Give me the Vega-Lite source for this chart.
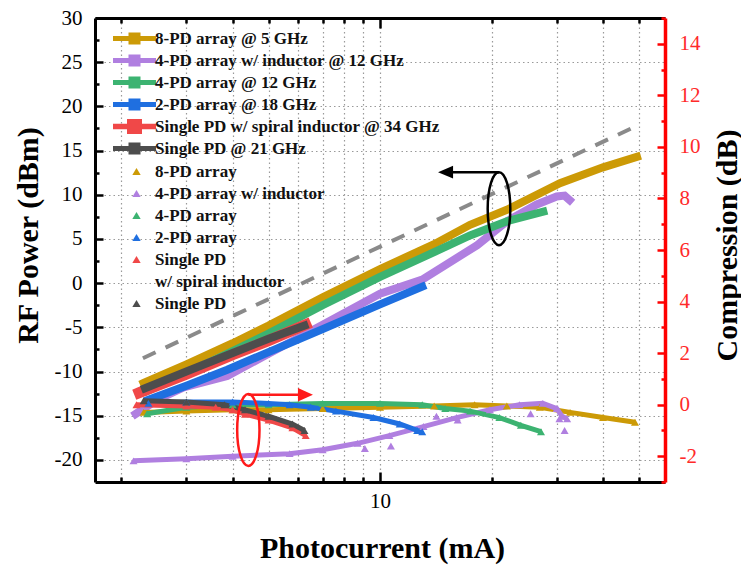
{
  "$schema": "https://vega.github.io/schema/vega-lite/v6.json",
  "width": 570,
  "height": 464,
  "autosize": {"type": "none"},
  "padding": {"left": 95, "top": 18, "right": 76, "bottom": 83},
  "background": "white",
  "config": {"view": {"stroke": null}, "font": "Liberation Serif"},
  "datasets": {
    "dash": [{"I": 2.29, "P": -8.5}, {"I": 48.2, "P": 17.6}],
    "rf": [
      {"s": "8-PD array @ 5 GHz", "I": 2.3, "P": -11.3},
      {"s": "8-PD array @ 5 GHz", "I": 3, "P": -9.2},
      {"s": "8-PD array @ 5 GHz", "I": 4, "P": -6.8},
      {"s": "8-PD array @ 5 GHz", "I": 5, "P": -4.8},
      {"s": "8-PD array @ 5 GHz", "I": 7, "P": -1.6},
      {"s": "8-PD array @ 5 GHz", "I": 10, "P": 1.6},
      {"s": "8-PD array @ 5 GHz", "I": 14, "P": 4.4},
      {"s": "8-PD array @ 5 GHz", "I": 17.5, "P": 6.6},
      {"s": "8-PD array @ 5 GHz", "I": 22, "P": 8.3},
      {"s": "8-PD array @ 5 GHz", "I": 30.6, "P": 11.3},
      {"s": "8-PD array @ 5 GHz", "I": 40, "P": 13.1},
      {"s": "8-PD array @ 5 GHz", "I": 49.4, "P": 14.3},
      {"s": "4-PD array w/ inductor @ 12 GHz", "I": 2.19, "P": -14.8},
      {"s": "4-PD array w/ inductor @ 12 GHz", "I": 2.5, "P": -13.2},
      {"s": "4-PD array w/ inductor @ 12 GHz", "I": 2.95, "P": -11.8},
      {"s": "4-PD array w/ inductor @ 12 GHz", "I": 3.87, "P": -10.5},
      {"s": "4-PD array w/ inductor @ 12 GHz", "I": 5, "P": -8.0},
      {"s": "4-PD array w/ inductor @ 12 GHz", "I": 7, "P": -4.7},
      {"s": "4-PD array w/ inductor @ 12 GHz", "I": 10, "P": -1.2},
      {"s": "4-PD array w/ inductor @ 12 GHz", "I": 13, "P": 0.4},
      {"s": "4-PD array w/ inductor @ 12 GHz", "I": 18.3, "P": 4.3},
      {"s": "4-PD array w/ inductor @ 12 GHz", "I": 22, "P": 7.0},
      {"s": "4-PD array w/ inductor @ 12 GHz", "I": 26.5, "P": 8.9},
      {"s": "4-PD array w/ inductor @ 12 GHz", "I": 30, "P": 9.8},
      {"s": "4-PD array w/ inductor @ 12 GHz", "I": 31.5, "P": 9.9},
      {"s": "4-PD array w/ inductor @ 12 GHz", "I": 32.5, "P": 9.4},
      {"s": "4-PD array @ 12 GHz", "I": 2.35, "P": -12.2},
      {"s": "4-PD array @ 12 GHz", "I": 3, "P": -10.2},
      {"s": "4-PD array @ 12 GHz", "I": 4, "P": -7.7},
      {"s": "4-PD array @ 12 GHz", "I": 5, "P": -5.7},
      {"s": "4-PD array @ 12 GHz", "I": 7, "P": -2.5},
      {"s": "4-PD array @ 12 GHz", "I": 10, "P": 0.7},
      {"s": "4-PD array @ 12 GHz", "I": 14, "P": 3.5},
      {"s": "4-PD array @ 12 GHz", "I": 17.5, "P": 5.4},
      {"s": "4-PD array @ 12 GHz", "I": 22, "P": 7.0},
      {"s": "4-PD array @ 12 GHz", "I": 27.6, "P": 8.1},
      {"s": "2-PD array @ 18 GHz", "I": 2.37, "P": -13.2},
      {"s": "2-PD array @ 18 GHz", "I": 3, "P": -11.6},
      {"s": "2-PD array @ 18 GHz", "I": 3.87, "P": -9.8},
      {"s": "2-PD array @ 18 GHz", "I": 5, "P": -7.8},
      {"s": "2-PD array @ 18 GHz", "I": 7, "P": -5.2},
      {"s": "2-PD array @ 18 GHz", "I": 10, "P": -2.4},
      {"s": "2-PD array @ 18 GHz", "I": 13, "P": -0.4},
      {"s": "Single PD w/ spiral inductor @ 34 GHz", "I": 2.24, "P": -12.4},
      {"s": "Single PD w/ spiral inductor @ 34 GHz", "I": 3, "P": -10.3},
      {"s": "Single PD w/ spiral inductor @ 34 GHz", "I": 4, "P": -8.1},
      {"s": "Single PD w/ spiral inductor @ 34 GHz", "I": 5, "P": -6.5},
      {"s": "Single PD w/ spiral inductor @ 34 GHz", "I": 6.3, "P": -4.7},
      {"s": "Single PD @ 21 GHz", "I": 2.32, "P": -11.9},
      {"s": "Single PD @ 21 GHz", "I": 3, "P": -10.0},
      {"s": "Single PD @ 21 GHz", "I": 4, "P": -7.9},
      {"s": "Single PD @ 21 GHz", "I": 5, "P": -6.3},
      {"s": "Single PD @ 21 GHz", "I": 6.25, "P": -4.8}
    ],
    "comp": [
      {"c": "8-PD array", "I": 2.3, "C": -0.3},
      {"c": "8-PD array", "I": 3, "C": -0.25},
      {"c": "8-PD array", "I": 4, "C": -0.2},
      {"c": "8-PD array", "I": 5, "C": -0.2},
      {"c": "8-PD array", "I": 7, "C": -0.15},
      {"c": "8-PD array", "I": 10, "C": -0.1},
      {"c": "8-PD array", "I": 14, "C": -0.05},
      {"c": "8-PD array", "I": 18, "C": 0.0},
      {"c": "8-PD array", "I": 22, "C": -0.05},
      {"c": "8-PD array", "I": 27, "C": -0.1},
      {"c": "8-PD array", "I": 32.6, "C": -0.3},
      {"c": "8-PD array", "I": 40, "C": -0.5},
      {"c": "8-PD array", "I": 48.8, "C": -0.68},
      {"c": "4-PD array w/ inductor", "I": 2.16, "C": -2.18},
      {"c": "4-PD array w/ inductor", "I": 3, "C": -2.1},
      {"c": "4-PD array w/ inductor", "I": 4, "C": -2.0},
      {"c": "4-PD array w/ inductor", "I": 5.7, "C": -1.9},
      {"c": "4-PD array w/ inductor", "I": 7, "C": -1.75},
      {"c": "4-PD array w/ inductor", "I": 8.7, "C": -1.5},
      {"c": "4-PD array w/ inductor", "I": 10.6, "C": -1.2},
      {"c": "4-PD array w/ inductor", "I": 13.1, "C": -0.85},
      {"c": "4-PD array w/ inductor", "I": 16.1, "C": -0.5},
      {"c": "4-PD array w/ inductor", "I": 19.8, "C": -0.2},
      {"c": "4-PD array w/ inductor", "I": 23.8, "C": 0.0},
      {"c": "4-PD array w/ inductor", "I": 27.5, "C": 0.05},
      {"c": "4-PD array w/ inductor", "I": 30, "C": -0.15},
      {"c": "4-PD array w/ inductor", "I": 31, "C": -0.45},
      {"c": "4-PD array w/ inductor", "I": 32, "C": -0.55},
      {"c": "4-PD array w/ inductor", "I": 9.1, "C": -1.7, "o": 1},
      {"c": "4-PD array w/ inductor", "I": 10.7, "C": -1.6, "o": 1},
      {"c": "4-PD array w/ inductor", "I": 14.2, "C": -0.45, "o": 1},
      {"c": "4-PD array w/ inductor", "I": 16.2, "C": -0.6, "o": 1},
      {"c": "4-PD array w/ inductor", "I": 25.5, "C": -0.35, "o": 1},
      {"c": "4-PD array w/ inductor", "I": 30.5, "C": -0.55, "o": 1},
      {"c": "4-PD array w/ inductor", "I": 31.5, "C": -1.0, "o": 1},
      {"c": "4-PD array", "I": 2.35, "C": -0.35},
      {"c": "4-PD array", "I": 3, "C": -0.1},
      {"c": "4-PD array", "I": 4, "C": 0.0},
      {"c": "4-PD array", "I": 5, "C": 0.0},
      {"c": "4-PD array", "I": 7, "C": 0.05},
      {"c": "4-PD array", "I": 10, "C": 0.05},
      {"c": "4-PD array", "I": 13, "C": 0.0},
      {"c": "4-PD array", "I": 15, "C": -0.15},
      {"c": "4-PD array", "I": 17.5, "C": -0.25},
      {"c": "4-PD array", "I": 21, "C": -0.5},
      {"c": "4-PD array", "I": 24, "C": -0.8},
      {"c": "4-PD array", "I": 27.2, "C": -1.05},
      {"c": "2-PD array", "I": 2.37, "C": 0.05},
      {"c": "2-PD array", "I": 3, "C": 0.1},
      {"c": "2-PD array", "I": 4, "C": 0.1},
      {"c": "2-PD array", "I": 5, "C": 0.05},
      {"c": "2-PD array", "I": 5.7, "C": 0.0},
      {"c": "2-PD array", "I": 6.5, "C": -0.1},
      {"c": "2-PD array", "I": 7.6, "C": -0.25},
      {"c": "2-PD array", "I": 9.6, "C": -0.5},
      {"c": "2-PD array", "I": 11.3, "C": -0.75},
      {"c": "2-PD array", "I": 12.6, "C": -1.0},
      {"c": "2-PD array", "I": 13, "C": -1.05},
      {"c": "Single PD w/ spiral inductor", "I": 2.2, "C": 0.0},
      {"c": "Single PD w/ spiral inductor", "I": 3, "C": -0.05},
      {"c": "Single PD w/ spiral inductor", "I": 3.6, "C": -0.1},
      {"c": "Single PD w/ spiral inductor", "I": 4.0, "C": -0.2},
      {"c": "Single PD w/ spiral inductor", "I": 4.32, "C": -0.37},
      {"c": "Single PD w/ spiral inductor", "I": 5, "C": -0.6},
      {"c": "Single PD w/ spiral inductor", "I": 5.8, "C": -0.9},
      {"c": "Single PD w/ spiral inductor", "I": 6.3, "C": -1.2},
      {"c": "Single PD", "I": 2.3, "C": 0.15},
      {"c": "Single PD", "I": 3, "C": 0.1},
      {"c": "Single PD", "I": 3.8, "C": 0.0},
      {"c": "Single PD", "I": 4.32, "C": -0.2},
      {"c": "Single PD", "I": 5, "C": -0.45},
      {"c": "Single PD", "I": 5.8, "C": -0.75},
      {"c": "Single PD", "I": 6.25, "C": -1.0}
    ],
    "annL": [
      {"k": "e", "I": 20.95, "P": 8.43},
      {"k": "a", "I": 20.95, "P": 12.56},
      {"k": "a", "I": 15.3, "P": 12.56},
      {"k": "h", "I": 15.03, "P": 12.56}
    ],
    "annR": [
      {"k": "e", "I": 4.41, "C": -0.98},
      {"k": "a", "I": 4.41, "C": 0.38},
      {"k": "a", "I": 6.1, "C": 0.38},
      {"k": "h", "I": 6.29, "C": 0.38}
    ]
  },
  "layer": [
    {
      "encoding": {
        "x": {
          "field": "I", "type": "quantitative",
          "scale": {"type": "log", "domain": [1.7, 58.8], "nice": false},
          "axis": {
            "orient": "bottom",
            "values": [2, 3, 4, 5, 6, 7, 8, 9, 10, 20, 30, 40, 50],
            "labelExpr": "datum.value == 10 ? '10' : ''",
            "labelOverlap": false, "labelFlush": false,
            "tickSize": {"condition": {"test": "datum.value == 10", "value": -10}, "value": -5},
            "tickWidth": 2.5, "tickColor": "black",
            "domainColor": "black", "domainWidth": 3,
            "grid": true, "gridColor": "#9a9a9a", "gridDash": [1.5, 3], "gridWidth": 1.2,
            "labelFont": "Liberation Serif", "labelFontSize": 21, "labelColor": "black", "labelPadding": 18,
            "title": "Photocurrent (mA)", "titleFont": "Liberation Serif", "titleFontSize": 30,
            "titleFontWeight": "bold", "titleColor": "black",
            "titleX": 287, "titleY": 75, "titleAlign": "center", "titleBaseline": "alphabetic"
          }
        },
        "y": {
          "field": "P", "type": "quantitative",
          "scale": {"domain": [-22.5, 30], "nice": false, "zero": false},
          "axis": {
            "orient": "left",
            "values": [-20, -17.5, -15, -12.5, -10, -7.5, -5, -2.5, 0, 2.5, 5, 7.5, 10, 12.5, 15, 17.5, 20, 22.5, 25, 27.5, 30],
            "labelExpr": "datum.value % 5 == 0 ? '' + datum.value : ''",
            "tickSize": {"condition": {"test": "datum.value % 5 != 0", "value": -4}, "value": -8},
            "tickWidth": 2.5, "tickColor": "black",
            "domainColor": "black", "domainWidth": 3,
            "grid": true, "gridColor": "#9a9a9a", "gridDash": [1.5, 3], "gridWidth": 1.2,
            "gridOpacity": {"condition": {"test": "datum.value % 5 != 0", "value": 0}, "value": 1},
            "labelFont": "Liberation Serif", "labelFontSize": 21, "labelColor": "black", "labelPadding": 21,
            "title": "RF Power (dBm)", "titleFont": "Liberation Serif", "titleFontSize": 30,
            "titleFontWeight": "bold", "titleColor": "black", "titleAngle": 270,
            "titleX": -67, "titleY": 217, "titleAlign": "center", "titleBaseline": "middle"
          }
        }
      },
      "layer": [
        {"data": {"name": "dash"}, "mark": {"type": "line", "color": "#8a8a8a", "strokeWidth": 4, "strokeDash": [14, 11]}},
        {
          "data": {"name": "rf"},
          "mark": {"type": "line", "strokeCap": "square"},
          "encoding": {
            "color": {
              "field": "s", "type": "nominal",
              "scale": {
                "domain": ["8-PD array @ 5 GHz", "4-PD array w/ inductor @ 12 GHz", "4-PD array @ 12 GHz", "2-PD array @ 18 GHz", "Single PD w/ spiral inductor @ 34 GHz", "Single PD @ 21 GHz"],
                "range": ["#cc9a06", "#b07fe0", "#3cb371", "#1f6fe0", "#f04848", "#4d4d4d"]
              },
              "legend": {
                "orient": "none", "legendX": 31, "legendY": 12, "title": null, "padding": 0, "rowPadding": 4,
                "symbolType": "M-4.3,-0.5H4.3V0.5H-4.3Z M-1.2,-1.2H1.2V1.2H-1.2Z",
                "symbolSize": 100, "symbolStrokeWidth": 0, "labelOffset": 12,
                "labelFont": "Liberation Serif", "labelFontSize": 17, "labelFontWeight": "bold",
                "labelColor": "#111111", "labelLimit": 400,
                "encode": {
                  "symbols": {
                    "update": {
                      "fill": {"scale": "color", "field": "value"},
                      "opacity": {"value": 1},
                      "shape": [
                        {"test": "datum.value === 'Single PD w/ spiral inductor @ 34 GHz'", "value": "M-4.3,-0.55H4.3V0.55H-4.3Z M-1.5,-1.5H1.5V1.5H-1.5Z"},
                        {"value": "M-4.3,-0.5H4.3V0.5H-4.3Z M-1.2,-1.2H1.2V1.2H-1.2Z"}
                      ]
                    }
                  }
                }
              }
            },
            "strokeWidth": {"condition": {"test": "datum.s === 'Single PD w/ spiral inductor @ 34 GHz'", "value": 11}, "value": 8}
          }
        },
        {"data": {"name": "annL"}, "transform": [{"filter": "datum.k === 'a'"}], "mark": {"type": "line", "color": "black", "strokeWidth": 2.5}},
        {"data": {"name": "annL"}, "transform": [{"filter": "datum.k === 'e'"}], "mark": {"type": "point", "shape": "M0,-1A0.31,1 0 1,1 0,1A0.31,1 0 1,1 0,-1Z", "size": 5329, "filled": false, "stroke": "black", "strokeWidth": 2.5, "opacity": 1}},
        {"data": {"name": "annL"}, "transform": [{"filter": "datum.k === 'h'"}], "mark": {"type": "point", "shape": "M-1,0L1,-0.85L1,0.85Z", "size": 225, "filled": true, "color": "black", "opacity": 1}}
      ]
    },
    {
      "encoding": {
        "x": {
          "field": "I", "type": "quantitative",
          "scale": {"type": "log", "domain": [1.7, 58.8], "nice": false},
          "axis": {
            "orient": "top",
            "values": [2, 3, 4, 5, 6, 7, 8, 9, 10, 20, 30, 40, 50],
            "labels": false, "grid": false, "title": null,
            "tickSize": {"condition": {"test": "datum.value == 10", "value": -10}, "value": -5},
            "tickWidth": 2.5, "tickColor": "black",
            "domainColor": "black", "domainWidth": 3
          }
        },
        "y": {
          "field": "C", "type": "quantitative",
          "scale": {"domain": [-3, 15], "nice": false, "zero": false},
          "axis": {
            "orient": "right",
            "values": [-3, -2, -1, 0, 1, 2, 3, 4, 5, 6, 7, 8, 9, 10, 11, 12, 13, 14, 15],
            "labelExpr": "datum.value % 2 == 0 ? '' + datum.value : ''",
            "tickSize": {"condition": {"test": "datum.value % 2 != 0", "value": -4}, "value": -8},
            "tickWidth": 2.5, "tickColor": "#ff0000",
            "domainColor": "#ff0000", "domainWidth": 3.5,
            "grid": false,
            "labelFont": "Liberation Serif", "labelFontSize": 21, "labelColor": "#ff2a2a", "labelPadding": 22,
            "title": "Compression (dB)", "titleFont": "Liberation Serif", "titleFontSize": 30,
            "titleFontWeight": "bold", "titleColor": "black", "titleAngle": 270,
            "titleX": 62, "titleY": 227, "titleAlign": "center", "titleBaseline": "middle"
          }
        }
      },
      "layer": [
        {
          "data": {"name": "comp"},
          "transform": [{"filter": "!datum.o"}],
          "mark": {"type": "line", "strokeWidth": 5},
          "encoding": {
            "stroke": {
              "field": "c", "type": "nominal",
              "scale": {
                "domain": ["8-PD array", "4-PD array w/ inductor", "4-PD array", "2-PD array", "Single PD w/ spiral inductor", "Single PD"],
                "range": ["#cc9a06", "#b07fe0", "#3cb371", "#1f6fe0", "#f04848", "#4d4d4d"]
              },
              "legend": null
            }
          }
        },
        {
          "data": {"name": "comp"},
          "mark": {"type": "point", "shape": "triangle-up", "size": 64, "filled": true, "opacity": 1},
          "encoding": {
            "fill": {
              "field": "c", "type": "nominal",
              "scale": {
                "domain": ["8-PD array", "4-PD array w/ inductor", "4-PD array", "2-PD array", "Single PD w/ spiral inductor", "w/ spiral inductor", "Single PD"],
                "range": ["#cc9a06", "#b07fe0", "#3cb371", "#1f6fe0", "#f04848", "transparent", "#4d4d4d"]
              },
              "legend": {
                "orient": "none", "legendX": 33, "legendY": 145, "title": null, "padding": 0, "rowPadding": 4,
                "symbolType": "triangle-up", "symbolSize": 70, "symbolStrokeWidth": 0, "symbolOpacity": 1,
                "labelOffset": 10,
                "labelExpr": "datum.value == 'Single PD w/ spiral inductor' ? 'Single PD' : datum.label",
                "labelFont": "Liberation Serif", "labelFontSize": 17, "labelFontWeight": "bold",
                "labelColor": "#111111", "labelLimit": 400
              }
            }
          }
        },
        {"data": {"name": "annR"}, "transform": [{"filter": "datum.k === 'a'"}], "mark": {"type": "line", "color": "#ff1a1a", "strokeWidth": 2.5}},
        {"data": {"name": "annR"}, "transform": [{"filter": "datum.k === 'e'"}], "mark": {"type": "point", "shape": "M0,-1A0.31,1 0 1,1 0,1A0.31,1 0 1,1 0,-1Z", "size": 5184, "filled": false, "stroke": "#ff1a1a", "strokeWidth": 2.5, "opacity": 1}},
        {"data": {"name": "annR"}, "transform": [{"filter": "datum.k === 'h'"}], "mark": {"type": "point", "shape": "M1,0L-1,-0.9L-1,0.9Z", "size": 225, "filled": true, "color": "#ff1a1a", "opacity": 1}}
      ]
    }
  ],
  "resolve": {"scale": {"y": "independent"}, "axis": {"x": "independent", "y": "independent"}}
}
